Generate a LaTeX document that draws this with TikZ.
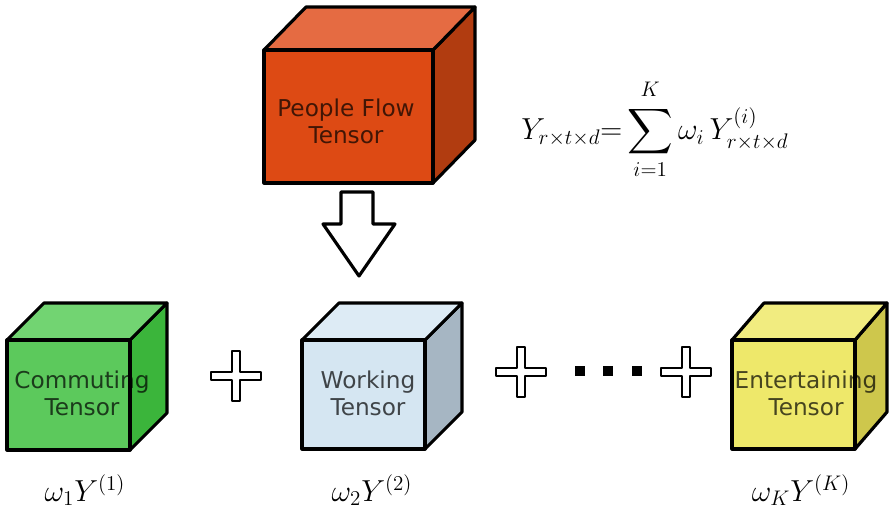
\documentclass[tikz,border=0pt]{standalone}
\usepackage{amsmath,amssymb}
\usepackage{fontspec}
\usepackage{tikz}
\usetikzlibrary{positioning,arrows.meta}
\usepackage{xcolor}
\newfontfamily\labelfont{DejaVu Sans}

\definecolor{pffront}{HTML}{DD4A14}
\definecolor{pftop}{HTML}{E56B42}
\definecolor{pfside}{HTML}{B13C10}
\definecolor{cmfront}{HTML}{5CC95C}
\definecolor{cmtop}{HTML}{72D472}
\definecolor{cmside}{HTML}{3BB53B}
\definecolor{wkfront}{HTML}{D5E6F2}
\definecolor{wktop}{HTML}{DDEBF5}
\definecolor{wkside}{HTML}{A6B6C3}
\definecolor{etfront}{HTML}{EEE86A}
\definecolor{ettop}{HTML}{F1EC80}
\definecolor{etside}{HTML}{CEC74C}

\tikzset{
  face/.style={draw=black,line width=1.8pt,line join=round},
  tlabel/.style={font=\labelfont\fontsize{13.2}{15.5}\selectfont,text=black,text opacity=0.7,align=center},
  wlabel/.style={font=\fontsize{17}{19}\selectfont}
}

% x, y of front top-left, width, height, depth x, depth y, colour prefix
\newcommand{\tensorcube}[7]{%
  \draw[face,fill=#7side] (#1+#3,#2) -- ++(#5,-#6) -- ++(0,#4) -- ++(-#5,#6) -- cycle;
  \draw[face,fill=#7top] (#1,#2) -- ++(#5,-#6) -- ++(#3,0) -- ++(-#5,#6) -- cycle;
  \draw[face,fill=#7front] (#1,#2) rectangle ++(#3,#4);
}
% outlined plus sign round a named coordinate
\newcommand{\plussign}[1]{%
  \draw[face,line width=1.6pt,fill=white] ([shift={(-25,-4)}]#1) -- ++(21,0) -- ++(0,-21) -- ++(8,0)
    -- ++(0,21) -- ++(21,0) -- ++(0,8) -- ++(-21,0) -- ++(0,21) -- ++(-8,0) -- ++(0,-21) -- ++(-21,0) -- cycle;
}

\begin{document}
\begin{tikzpicture}[x=0.02cm,y=-0.02cm]
\useasboundingbox (0,0) rectangle (889,514);

% people flow tensor
\tensorcube{264}{50}{169}{133}{42}{43}{pf}
\node[tlabel] (pf) at (346,121) {People Flow\\Tensor};
\node (eq) at (655,129) {\fontsize{18}{21}\selectfont$\displaystyle Y_{r\times t\times d}{=}\sum_{i=1}^{K\rule[-4pt]{0pt}{4pt}}\omega_i\,Y^{(i)}_{r\times t\times d}$};

% hollow arrow down
\coordinate (top) at (357,192);
\draw[face,fill=white] (top) ++(-16,0) -- ++(32,0) -- ++(0,32) -- ++(22,0) -- (359,276) -- (323,224) -- (341,224) -- cycle;

% the parts
\tensorcube{7}{340}{123}{110}{37}{37}{cm}
\tensorcube{302}{340}{123}{109}{37}{37}{wk}
\tensorcube{732}{340}{123}{109}{32}{37}{et}
\node[tlabel] (cm) at (82,393) {Commuting\\Tensor};
\node[tlabel] (wk) at (368,393) {Working\\Tensor};
\node[tlabel] (et) at (806,393) {Entertaining\\Tensor};

\coordinate (p1) at (236,376);
\coordinate (p2) at (521,372);
\coordinate (p3) at (686,372);
\plussign{p1}
\plussign{p2}
\plussign{p3}
\fill (575,366) rectangle ++(10,10);
\fill (603,366) rectangle ++(10,10);
\fill (632,366) rectangle ++(10,10);

\node[wlabel] (w1) at (85,490) {$\omega_1 Y^{(1)}$};
\node[wlabel] (w2) at (372,490) {$\omega_2 Y^{(2)}$};
\node[wlabel] (wK) at (801,490) {$\omega_K Y^{(K)}$};
\end{tikzpicture}
\end{document}
